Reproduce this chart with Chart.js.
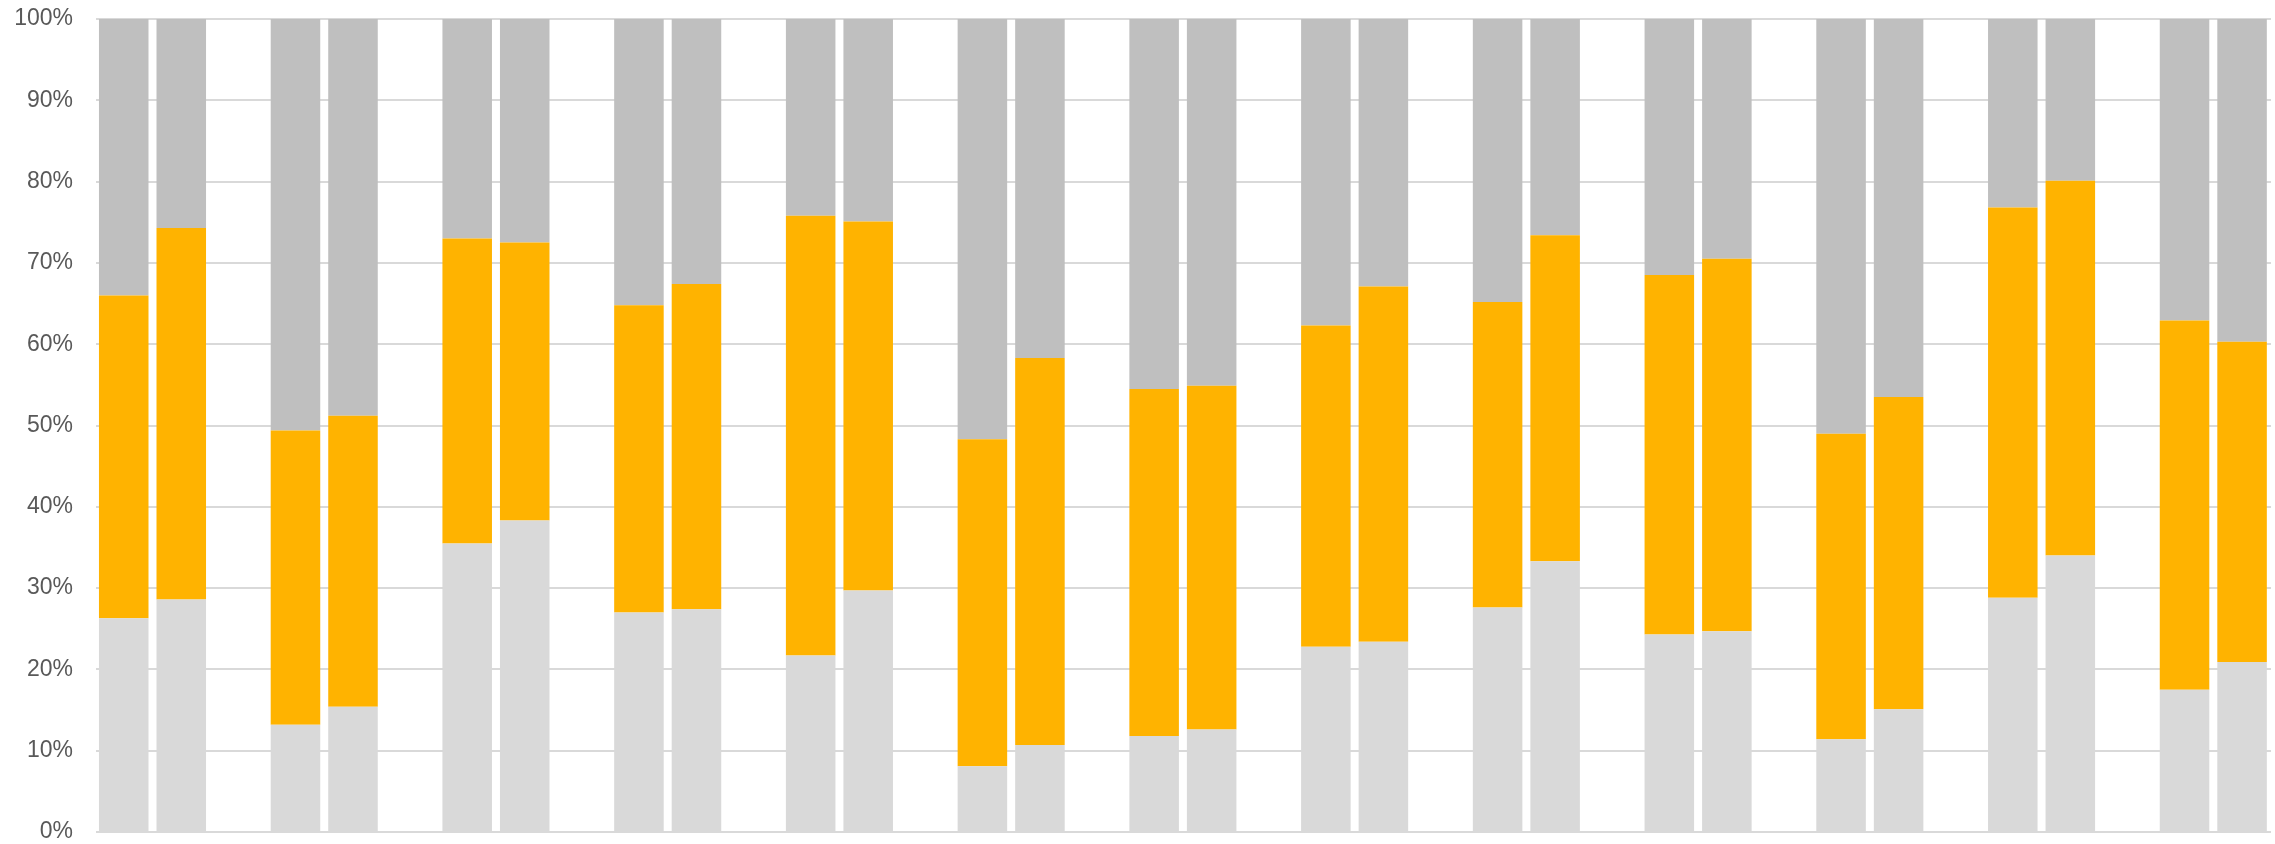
<!DOCTYPE html>
<html>
<head>
<meta charset="utf-8">
<script src="https://cdn.jsdelivr.net/npm/chart.js@4/dist/chart.umd.min.js"></script>
<style>
  html, body { margin: 0; padding: 0; background: #ffffff; }
  #wrap { width: 2275px; height: 844px; }
</style>
</head>
<body>
<div id="wrap"><canvas id="chart" width="2275" height="844"></canvas></div>
<script>
// Thirteen groups, each with two side-by-side 100% stacked bars.
const categories = ['1', '2', '3', '4', '5', '6', '7', '8', '9', '10', '11', '12', '13'];

// First bar of each group (percent shares, bottom to top)
const lowerA  = [26.3, 13.2, 35.5, 27.0, 21.7,  8.1, 11.8, 22.8, 27.6, 24.3, 11.4, 28.8, 17.5];
const middleA = [39.7, 36.2, 37.5, 37.8, 54.1, 40.2, 42.7, 39.5, 37.6, 44.2, 37.6, 48.0, 45.4];
const upperA  = [34.0, 50.6, 27.0, 35.2, 24.2, 51.7, 45.5, 37.7, 34.8, 31.5, 51.0, 23.2, 37.1];

// Second bar of each group
const lowerB  = [28.6, 15.4, 38.3, 27.4, 29.7, 10.7, 12.6, 23.4, 33.3, 24.7, 15.1, 34.0, 20.9];
const middleB = [45.7, 35.8, 34.2, 40.0, 45.4, 47.6, 42.3, 43.7, 40.1, 45.8, 38.4, 46.1, 39.4];
const upperB  = [25.7, 48.8, 27.5, 32.6, 24.9, 41.7, 45.1, 32.9, 26.6, 29.5, 46.5, 19.9, 39.7];

// Y axis tick values
const yTicks = [0, 10, 20, 30, 40, 50, 60, 70, 80, 90, 100];

const COLOR_LOWER = '#d9d9d9';
const COLOR_MIDDLE = '#ffb300';
const COLOR_UPPER = '#bfbfbf';

// Groups are placed along a numeric axis at their index position.
const toPoints = (arr) => categories.map((c, i) => ({ x: i, y: arr[i] }));

const makeSet = (label, arr, color, stack) => ({
  label,
  data: toPoints(arr),
  backgroundColor: color,
  borderWidth: 0,
  stack,
  categoryPercentage: 0.67,
  barPercentage: 0.861
});

new Chart(document.getElementById('chart'), {
  type: 'bar',
  data: {
    datasets: [
      makeSet('A lower', lowerA, COLOR_LOWER, 'A'),
      makeSet('A middle', middleA, COLOR_MIDDLE, 'A'),
      makeSet('A upper', upperA, COLOR_UPPER, 'A'),
      makeSet('B lower', lowerB, COLOR_LOWER, 'B'),
      makeSet('B middle', middleB, COLOR_MIDDLE, 'B'),
      makeSet('B upper', upperB, COLOR_UPPER, 'B')
    ]
  },
  options: {
    responsive: false,
    animation: false,
    events: [],
    layout: { padding: { top: 19, right: 4, bottom: 12, left: 0 } },
    plugins: {
      legend: { display: false },
      tooltip: { enabled: false }
    },
    scales: {
      x: {
        type: 'linear',
        display: false,
        stacked: true,
        offset: false,
        bounds: 'data',
        min: -0.329,
        max: 12.336,
        afterBuildTicks(scale) { scale.ticks = categories.map((c, i) => ({ value: i })); }
      },
      y: {
        stacked: true,
        min: 0,
        max: 100,
        afterFit(scale) { scale.width = 96; },
        afterBuildTicks(scale) { scale.ticks = yTicks.map(v => ({ value: v })); },
        border: { display: false },
        grid: {
          color: '#d9d9d9',
          lineWidth: 2,
          drawTicks: true,
          tickLength: 23,
          tickColor: 'rgba(0,0,0,0)'
        },
        ticks: {
          padding: 0,
          color: '#595959',
          font: { family: "'Liberation Sans', Arial, sans-serif", size: 23, lineHeight: 1 },
          callback: (v) => v + '%'
        }
      }
    }
  }
});
</script>
</body>
</html>
